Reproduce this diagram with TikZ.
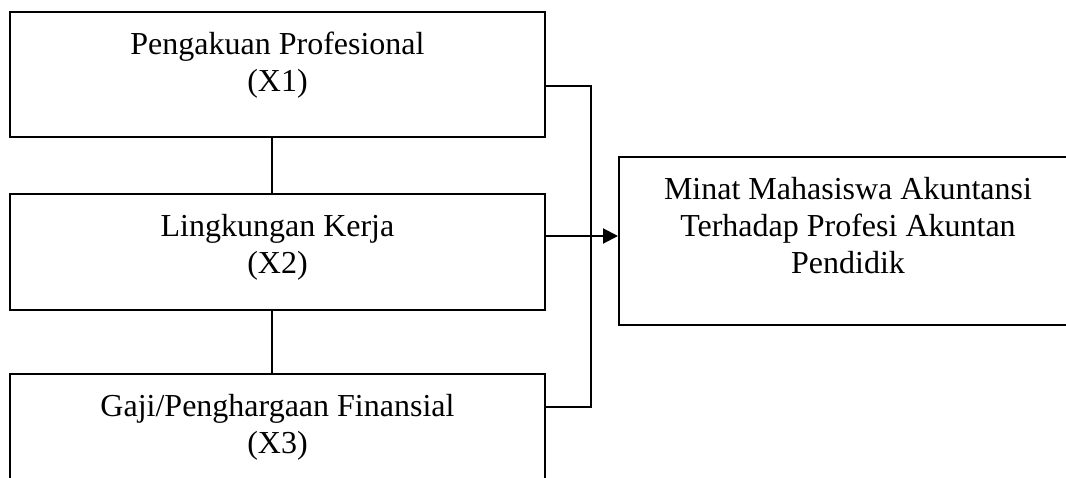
\documentclass[tikz,border=0pt]{standalone}
\usepackage{fontspec}
\setmainfont{Liberation Serif}
\usetikzlibrary{positioning, calc, arrows.meta}
\tikzset{>={Triangle[length=7.5pt,width=7.5pt]}}
\tikzset{
    varbox/.style={draw, line width=1pt, inner sep=0pt, anchor=north west,
        font=\fontsize{16}{18.5}\selectfont},
    link/.style={line width=1pt}
}
% text box: height, width, text (first baseline 21pt under the top)
\newcommand{\vartext}[3]{\parbox[c][#1][t]{#2}{\centering\rule{0pt}{21pt}#3}}

\begin{document}
\begin{tikzpicture}[x=0.5pt,y=-0.5pt]
    \useasboundingbox (0,0) rectangle (1066,477);
    \node[varbox] (prof)  at (9,11)   {\vartext{62.5pt}{267.5pt}{Pengakuan Profesional\\(X1)}};
    \node[varbox] (lingk) at (9,193)  {\vartext{58pt}{267.5pt}{Lingkungan Kerja\\(X2)}};
    \node[varbox] (gaji)  at (9,373)  {\vartext{62pt}{267.5pt}{Gaji/Penghargaan Finansial\\(X3)}};
    \node[varbox] (minat) at (618,156) {\vartext{84pt}{229pt}{Minat Mahasiswa Akuntansi\\Terhadap Profesi Akuntan\\Pendidik}};
    % junction points of the bracket
    \coordinate (jtop) at (591,86);
    \coordinate (jmid) at (591,236);
    \coordinate (jbot) at (591,407);
    \coordinate (jlink) at (272,0);
    \draw[link] (prof.south -| jlink) -- (lingk.north -| jlink);
    \draw[link] (lingk.south -| jlink) -- (gaji.north -| jlink);
    \draw[link] (prof.east |- jtop) -- (jtop) -- (jbot) -- (gaji.east |- jbot);
    \draw[link,->] (lingk.east |- jmid) -- (minat.west |- jmid);
\end{tikzpicture}
\end{document}
